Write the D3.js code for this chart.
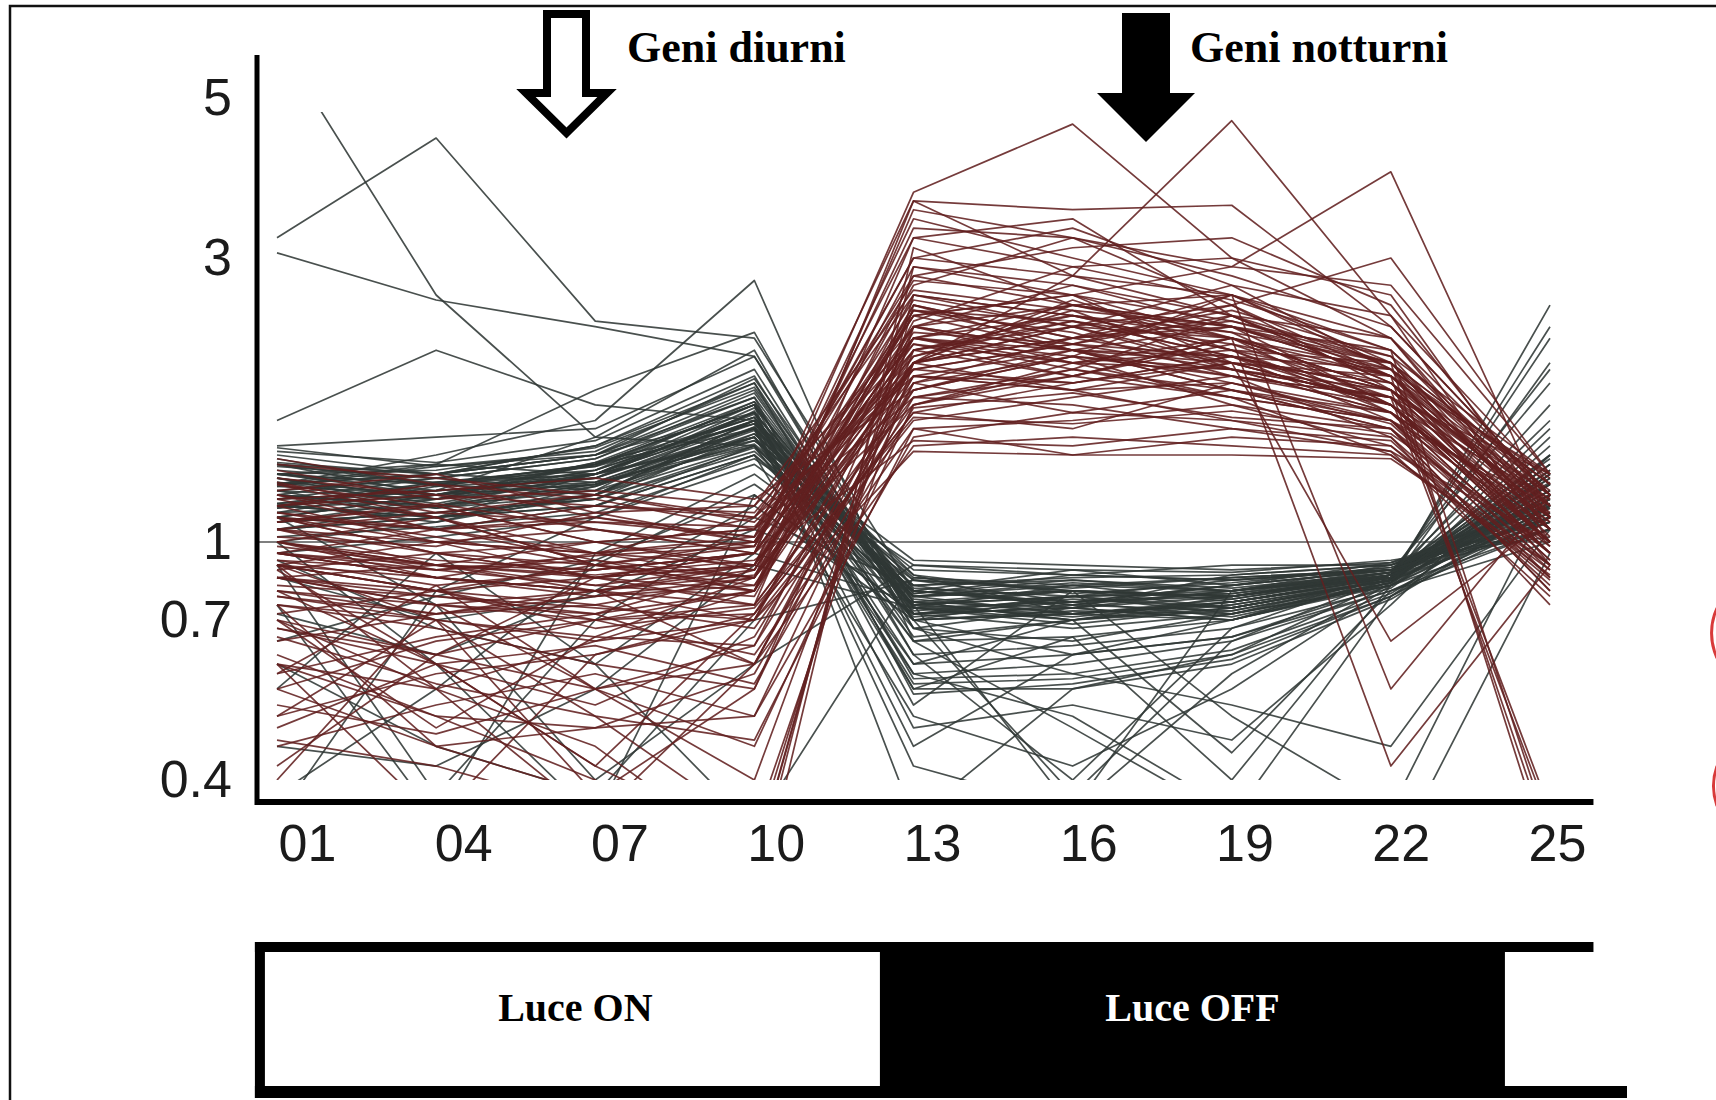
<!DOCTYPE html>
<html>
<head>
<meta charset="utf-8">
<script src="https://cdn.jsdelivr.net/npm/d3@7"></script>
<style>
  body { margin: 0; background: #fff; }
  svg { display: block; }
</style>
</head>
<body>
<svg id="chart" width="1716" height="1100"></svg>
<script>
// Sampling times (hours) and y tick values of the expression profile plot
const hours = ["01", "04", "07", "10", "13", "16", "19", "22", "25"];
const yTicks = [0.4, 0.7, 1, 3, 5];

// Relative expression of night-peaking genes (one row per gene, one value per sampling time)
const nightGenes = [
  [1.10, 0.95, 0.85, 0.90, 2.10, 2.30, 2.00, 1.70, 1.05],
  [1.20, 1.05, 0.95, 1.00, 2.40, 2.60, 2.20, 1.80, 1.10],
  [0.90, 0.80, 0.75, 0.85, 1.90, 2.10, 2.30, 1.90, 1.15],
  [1.00, 1.10, 0.90, 0.80, 2.60, 2.40, 2.10, 1.65, 1.00],
  [1.15, 1.00, 1.05, 0.95, 2.20, 1.95, 2.40, 1.85, 1.20],
  [0.85, 0.90, 0.80, 0.75, 1.80, 2.05, 1.90, 1.75, 0.95],
  [1.25, 1.15, 1.00, 1.05, 2.80, 2.50, 2.25, 2.00, 1.25],
  [0.95, 0.85, 0.95, 0.90, 2.00, 2.20, 2.60, 1.95, 1.10],
  [1.05, 0.95, 0.85, 0.95, 2.30, 2.70, 2.30, 1.70, 1.00],
  [1.10, 1.05, 1.10, 1.00, 1.95, 1.85, 2.05, 1.60, 1.15],
  [0.80, 0.75, 0.70, 0.80, 2.50, 2.20, 2.45, 2.05, 1.05],
  [1.20, 1.10, 0.90, 0.85, 2.05, 2.45, 1.95, 1.80, 1.20],
  [0.90, 1.00, 0.85, 0.90, 2.90, 2.60, 2.00, 1.90, 1.10],
  [1.00, 0.90, 1.00, 1.05, 1.75, 1.90, 2.15, 1.75, 1.30],
  [1.15, 1.20, 1.05, 0.95, 2.20, 2.10, 1.80, 1.55, 0.95],
  [0.95, 0.85, 0.80, 0.70, 2.35, 2.90, 2.55, 2.10, 1.20],
  [1.05, 1.00, 0.95, 0.85, 1.85, 2.20, 2.35, 2.00, 1.05],
  [0.88, 0.95, 1.00, 0.90, 2.15, 2.00, 2.20, 1.65, 1.10],
  [1.25, 1.10, 0.95, 1.10, 2.60, 2.30, 2.70, 1.95, 1.25],
  [1.00, 0.88, 0.92, 0.80, 2.00, 2.55, 2.10, 1.85, 1.00],
  [1.12, 1.02, 0.90, 0.98, 3.00, 2.80, 2.40, 2.00, 1.15],
  [0.92, 0.82, 0.88, 0.95, 1.70, 2.00, 1.75, 1.60, 1.05],
  [1.08, 1.15, 1.00, 0.88, 2.25, 2.15, 2.50, 1.90, 1.30],
  [0.98, 0.90, 0.82, 0.78, 2.45, 2.35, 2.05, 1.95, 0.90],
  [1.18, 1.05, 1.08, 1.02, 2.10, 2.40, 2.25, 1.70, 1.18],
  [1.28, 1.20, 1.15, 1.12, 2.30, 2.10, 2.05, 1.80, 1.15],
  [1.15, 1.25, 1.18, 1.05, 2.05, 2.35, 2.15, 1.90, 1.20],
  [1.32, 1.18, 1.22, 1.15, 2.65, 2.45, 2.30, 1.95, 1.28],
  [1.05, 1.12, 1.20, 1.08, 1.95, 2.15, 2.40, 1.85, 1.12],
  [1.22, 1.30, 1.12, 1.00, 2.45, 2.25, 1.90, 1.70, 1.05],
  [1.12, 1.05, 1.15, 1.10, 2.15, 1.90, 2.20, 1.95, 1.22],
  [1.38, 1.25, 1.10, 1.02, 2.75, 2.60, 2.35, 2.05, 1.30],
  [1.18, 1.22, 1.28, 1.18, 1.80, 2.05, 1.95, 1.75, 1.08],
  [1.08, 1.16, 1.05, 0.98, 2.55, 2.30, 2.50, 1.80, 1.18],
  [1.26, 1.12, 1.08, 1.06, 2.00, 2.50, 2.20, 1.90, 1.02],
  [1.02, 0.98, 1.12, 1.15, 2.20, 2.05, 2.60, 2.00, 1.25],
  [1.35, 1.28, 1.20, 1.10, 1.90, 1.80, 1.85, 1.65, 1.10],
  [0.60, 0.55, 0.65, 0.70, 1.60, 1.75, 1.90, 1.50, 0.85],
  [0.70, 0.62, 0.55, 0.60, 1.85, 1.65, 1.80, 1.55, 0.80],
  [0.55, 0.65, 0.70, 0.62, 1.55, 1.60, 1.70, 1.45, 0.90],
  [0.75, 0.68, 0.60, 0.55, 2.00, 1.80, 1.60, 1.50, 0.75],
  [0.65, 0.72, 0.75, 0.68, 1.70, 1.95, 1.75, 1.40, 0.88],
  [0.50, 0.58, 0.62, 0.72, 1.65, 1.55, 1.85, 1.60, 0.95],
  [0.62, 0.50, 0.48, 0.58, 1.75, 1.70, 1.55, 1.48, 0.82],
  [0.78, 0.70, 0.66, 0.64, 2.20, 2.00, 1.95, 1.65, 0.92],
  [0.45, 0.52, 0.58, 0.50, 1.50, 1.65, 1.60, 1.42, 0.78],
  [0.68, 0.60, 0.52, 0.66, 1.90, 1.85, 2.05, 1.70, 1.00],
  [0.58, 0.66, 0.72, 0.60, 1.45, 1.50, 1.45, 1.40, 0.86],
  [0.72, 0.80, 0.68, 0.74, 1.62, 1.58, 1.66, 1.52, 0.98],
  [0.52, 0.47, 0.55, 0.64, 1.80, 2.10, 1.85, 1.58, 0.90],
  [0.66, 0.56, 0.50, 0.46, 1.55, 1.40, 1.50, 1.45, 0.84],
  [0.48, 0.60, 0.64, 0.56, 1.68, 1.78, 1.62, 1.55, 0.80],
  [0.70, 0.55, 0.45, 0.30, 2.60, 2.40, 2.20, 1.80, 1.00],
  [0.60, 0.50, 0.40, 0.28, 2.90, 2.70, 2.40, 1.90, 1.10],
  [0.80, 0.60, 0.42, 0.32, 2.30, 2.00, 2.10, 1.70, 0.95],
  [0.55, 0.45, 0.38, 0.25, 3.10, 2.50, 2.30, 2.00, 1.05],
  [0.90, 0.70, 0.50, 0.34, 2.00, 2.30, 1.95, 1.75, 1.15],
  [0.46, 0.42, 0.36, 0.30, 2.50, 2.20, 2.00, 1.85, 0.98],
  [1.00, 0.85, 0.80, 0.90, 3.30, 3.20, 2.80, 2.30, 1.20],
  [0.90, 0.80, 0.70, 0.75, 3.20, 2.90, 3.00, 2.60, 1.10],
  [1.10, 0.95, 0.90, 1.00, 3.00, 3.30, 2.70, 2.40, 1.25],
  [0.85, 0.75, 0.72, 0.80, 2.80, 3.10, 3.20, 2.50, 1.15],
  [1.05, 0.90, 0.88, 0.95, 3.40, 3.00, 2.60, 2.20, 1.05],
  [0.95, 1.05, 0.92, 0.85, 2.70, 3.20, 2.90, 2.70, 1.30],
  [1.10, 1.00, 0.95, 1.02, 3.60, 2.80, 2.60, 2.10, 1.15],
  [0.92, 0.88, 0.94, 0.98, 3.20, 3.40, 2.40, 2.20, 1.20],
  [0.75, 0.70, 0.65, 0.80, 2.20, 2.40, 2.10, 2.00, 0.30],
  [0.68, 0.62, 0.70, 0.72, 2.00, 2.20, 2.30, 1.90, 0.32],
  [0.85, 0.78, 0.72, 0.88, 2.50, 2.10, 1.90, 1.75, 0.35],
  [0.90, 0.85, 0.78, 0.82, 2.30, 2.50, 2.30, 2.10, 0.33],
  [0.78, 0.72, 0.80, 0.86, 1.95, 2.15, 2.05, 1.80, 0.36],
  [1.00, 0.92, 0.88, 0.95, 2.20, 2.50, 2.60, 0.55, 1.20],
  [0.85, 0.80, 0.90, 0.82, 2.00, 2.30, 2.20, 0.42, 0.90],
  [0.95, 0.85, 0.80, 0.88, 2.40, 2.10, 2.00, 0.65, 1.10],
  [0.90, 0.55, 0.35, 0.60, 1.90, 1.80, 2.00, 1.70, 0.95],
  [0.40, 0.75, 0.55, 0.45, 1.70, 1.90, 1.75, 1.60, 0.85],
  [0.60, 0.35, 0.62, 0.70, 2.10, 1.90, 2.20, 1.80, 1.00],
  [0.75, 0.45, 0.48, 0.50, 1.85, 2.05, 1.70, 1.55, 0.88],
  [0.50, 0.70, 0.38, 0.55, 2.30, 2.10, 1.80, 1.65, 0.92],
  [0.42, 0.62, 0.85, 0.75, 1.75, 1.95, 1.80, 1.60, 0.90],
  [0.88, 0.60, 0.42, 0.72, 1.65, 1.85, 2.00, 1.70, 0.95],
  [0.58, 0.82, 0.55, 0.40, 2.10, 2.35, 2.05, 1.75, 1.00],
  [0.70, 0.48, 0.66, 0.85, 2.45, 2.15, 1.95, 1.65, 1.08],
  [0.82, 0.78, 0.74, 0.70, 1.42, 1.40, 1.40, 1.38, 0.90],
  [0.95, 0.90, 0.86, 0.92, 1.48, 1.45, 1.55, 1.42, 1.00],
  [0.90, 0.80, 0.85, 0.95, 3.70, 4.60, 3.00, 2.20, 1.10],
  [0.85, 0.75, 0.80, 0.60, 2.00, 2.80, 4.65, 2.40, 1.00],
  [1.00, 0.90, 0.85, 0.80, 3.60, 3.50, 3.55, 2.30, 1.20],
  [0.95, 0.88, 0.82, 0.90, 2.40, 2.60, 2.90, 3.95, 1.10],
  [0.80, 0.72, 0.78, 0.85, 3.50, 3.20, 2.50, 3.00, 1.30]
];

// Relative expression of day-peaking genes
const dayGenes = [
  [1.20, 1.15, 1.30, 1.60, 0.75, 0.80, 0.78, 0.85, 1.20],
  [1.10, 1.20, 1.25, 1.50, 0.80, 0.75, 0.82, 0.88, 1.15],
  [1.30, 1.25, 1.35, 1.70, 0.70, 0.72, 0.75, 0.84, 1.30],
  [1.15, 1.10, 1.20, 1.45, 0.85, 0.82, 0.80, 0.90, 1.10],
  [1.25, 1.30, 1.40, 1.80, 0.72, 0.78, 0.72, 0.82, 1.25],
  [1.05, 1.10, 1.15, 1.40, 0.82, 0.85, 0.86, 0.90, 1.05],
  [1.35, 1.20, 1.30, 1.65, 0.76, 0.70, 0.76, 0.86, 1.35],
  [1.18, 1.22, 1.28, 1.55, 0.78, 0.83, 0.80, 0.87, 1.18],
  [1.40, 1.30, 1.45, 1.90, 0.68, 0.74, 0.70, 0.83, 1.40],
  [1.12, 1.15, 1.22, 1.48, 0.88, 0.86, 0.84, 0.89, 1.12],
  [1.28, 1.18, 1.32, 1.62, 0.74, 0.76, 0.79, 0.85, 1.22],
  [1.08, 1.12, 1.18, 1.42, 0.80, 0.88, 0.82, 0.91, 1.08],
  [1.22, 1.28, 1.38, 1.75, 0.73, 0.77, 0.74, 0.84, 1.28],
  [1.32, 1.26, 1.34, 1.58, 0.77, 0.72, 0.77, 0.86, 1.32],
  [1.16, 1.08, 1.24, 1.52, 0.84, 0.81, 0.85, 0.88, 1.16],
  [1.24, 1.34, 1.42, 1.85, 0.71, 0.75, 0.73, 0.83, 1.45],
  [1.38, 1.24, 1.28, 1.68, 0.79, 0.84, 0.81, 0.87, 1.38],
  [1.14, 1.18, 1.26, 1.46, 0.86, 0.79, 0.83, 0.89, 1.10],
  [1.26, 1.20, 1.36, 1.72, 0.75, 0.71, 0.76, 0.85, 1.26],
  [1.42, 1.36, 1.48, 1.95, 0.70, 0.73, 0.72, 0.82, 1.50],
  [1.02, 1.06, 1.12, 1.38, 0.90, 0.88, 0.87, 0.92, 1.02],
  [1.20, 1.14, 1.20, 1.56, 0.78, 0.80, 0.78, 0.86, 1.60],
  [1.30, 1.32, 1.44, 1.82, 0.74, 0.69, 0.74, 0.84, 1.70],
  [1.16, 1.26, 1.30, 1.64, 0.81, 0.78, 0.79, 0.87, 1.85],
  [1.34, 1.28, 1.38, 1.78, 0.72, 0.76, 0.71, 0.83, 2.00],
  [1.22, 1.10, 1.18, 1.52, 0.82, 0.74, 0.86, 0.90, 1.18],
  [1.12, 1.24, 1.34, 1.70, 0.74, 0.82, 0.76, 0.85, 1.22],
  [1.36, 1.30, 1.26, 1.55, 0.70, 0.78, 0.84, 0.88, 1.28],
  [1.00, 1.08, 1.20, 1.60, 0.86, 0.72, 0.70, 0.84, 1.08],
  [1.26, 1.16, 1.30, 1.48, 0.92, 0.90, 0.88, 0.91, 1.16],
  [1.18, 1.28, 1.22, 1.66, 0.66, 0.70, 0.78, 0.86, 1.40],
  [1.44, 1.34, 1.40, 1.88, 0.76, 0.80, 0.74, 0.84, 1.55],
  [0.95, 1.02, 1.10, 1.35, 0.84, 0.76, 0.82, 0.88, 1.05],
  [1.30, 1.22, 1.50, 2.10, 0.68, 0.65, 0.72, 0.83, 1.32],
  [1.08, 1.18, 1.36, 1.58, 0.79, 0.86, 0.90, 0.90, 1.14],
  [1.24, 1.20, 1.32, 1.62, 0.74, 0.72, 0.76, 0.85, 2.30],
  [1.16, 1.22, 1.26, 1.56, 0.78, 0.80, 0.78, 0.87, 1.95],
  [1.20, 1.15, 1.25, 1.55, 0.56, 0.57, 0.62, 0.78, 1.10],
  [1.10, 1.20, 1.30, 1.65, 0.55, 0.55, 0.60, 0.77, 1.15],
  [1.30, 1.25, 1.35, 1.70, 0.57, 0.58, 0.63, 0.79, 1.20],
  [1.15, 1.10, 1.20, 1.50, 0.58, 0.60, 0.65, 0.80, 1.05],
  [1.25, 1.30, 1.40, 1.75, 0.54, 0.56, 0.61, 0.78, 1.25],
  [1.05, 1.10, 1.15, 1.45, 0.60, 0.62, 0.66, 0.80, 1.00],
  [1.35, 1.30, 1.45, 1.85, 0.62, 0.64, 0.68, 0.81, 1.30],
  [1.18, 1.22, 1.28, 1.60, 0.65, 0.66, 0.70, 0.82, 1.12],
  [3.20, 4.40, 2.35, 2.20, 0.80, 0.75, 0.80, 0.86, 1.20],
  [3.05, 2.55, 2.30, 2.05, 0.70, 0.72, 0.76, 0.85, 1.30],
  [6.00, 2.60, 1.50, 1.45, 0.75, 0.78, 0.74, 0.84, 1.15],
  [1.60, 2.10, 1.70, 1.60, 0.78, 0.82, 0.85, 0.88, 1.25],
  [1.25, 1.40, 1.60, 2.75, 0.65, 0.70, 0.75, 0.84, 1.35],
  [1.30, 1.35, 1.80, 2.25, 0.72, 0.68, 0.72, 0.85, 2.20],
  [1.45, 1.50, 1.55, 2.05, 0.76, 0.74, 0.70, 0.83, 2.50],
  [1.20, 1.10, 1.30, 1.50, 0.70, 0.38, 0.65, 0.85, 1.20],
  [1.15, 1.25, 1.20, 1.60, 0.60, 0.70, 0.44, 0.80, 1.10],
  [1.30, 1.20, 1.35, 1.55, 0.45, 0.62, 0.70, 0.86, 1.25],
  [1.10, 1.05, 1.15, 1.40, 0.50, 0.42, 0.55, 0.82, 1.05],
  [1.25, 1.35, 1.30, 1.70, 0.35, 0.55, 0.62, 0.84, 1.30],
  [1.05, 1.15, 1.25, 1.50, 0.65, 0.48, 0.35, 0.78, 1.15],
  [1.20, 1.30, 1.40, 1.65, 0.52, 0.80, 0.50, 0.36, 1.20],
  [1.35, 1.25, 1.30, 1.60, 0.48, 0.52, 0.46, 0.75, 1.40],
  [1.15, 1.20, 1.25, 1.45, 0.75, 0.36, 0.80, 0.88, 1.10],
  [1.28, 1.18, 1.35, 1.62, 0.58, 0.50, 0.36, 0.30, 0.95],
  [1.22, 1.18, 1.28, 1.58, 0.42, 0.36, 0.58, 0.83, 1.18],
  [1.14, 1.26, 1.32, 1.72, 0.62, 0.40, 0.68, 0.86, 1.22],
  [1.28, 1.14, 1.24, 1.54, 0.55, 0.66, 0.40, 0.82, 1.14],
  [1.08, 1.12, 1.18, 1.44, 0.68, 0.58, 0.52, 0.45, 1.05],
  [0.85, 0.70, 0.78, 1.05, 0.80, 0.76, 0.78, 0.86, 1.10],
  [0.65, 0.78, 0.92, 1.20, 0.72, 0.74, 0.80, 0.85, 1.18],
  [0.92, 0.68, 0.60, 0.95, 0.76, 0.70, 0.74, 0.84, 1.12],
  [0.72, 0.62, 0.80, 1.15, 0.70, 0.62, 0.66, 0.82, 1.20],
  [0.60, 0.45, 0.38, 0.70, 0.84, 0.80, 0.78, 0.87, 1.08],
  [0.35, 0.80, 1.10, 1.40, 0.75, 0.78, 0.80, 0.86, 1.15],
  [0.75, 0.35, 0.95, 1.30, 0.80, 0.76, 0.82, 0.88, 1.10],
  [1.00, 0.60, 0.35, 1.20, 0.72, 0.74, 0.78, 0.85, 1.20],
  [0.55, 0.95, 0.60, 0.34, 0.85, 0.80, 0.77, 0.86, 1.05],
  [0.38, 0.55, 0.90, 1.25, 0.78, 0.72, 0.76, 0.84, 1.25],
  [0.90, 0.38, 0.70, 1.10, 0.82, 0.84, 0.80, 0.87, 1.15],
  [1.10, 0.75, 0.40, 0.60, 0.90, 0.86, 0.84, 0.88, 1.10],
  [0.45, 0.42, 0.55, 0.90, 0.74, 0.70, 0.73, 0.84, 1.35]
];

// Light schedule (hours) shown in the bar under the plot
const lightPhases = [
  { label: "Luce ON",  from: 0,  to: 12,   dark: false },
  { label: "Luce OFF", from: 12, to: 24,   dark: true  },
  { label: "",         from: 24, to: 25.7, dark: false }
];

const geneGroups = [
  { label: "Geni diurni",   filled: false },
  { label: "Geni notturni", filled: true  }
];

const svg = d3.select("#chart");

// Scales: sampling points, hour positions of axis labels / light bar, piecewise-log expression
const x = d3.scalePoint().domain(hours).range([277, 1550]);
const hourLabelX = d3.scalePoint().domain(hours).range([307, 1557]);
const clock = d3.scaleLinear().domain([1, 25]).range([307, 1557]);
const y = d3.scaleLog().domain(yTicks).range([780, 620, 542, 258, 98]);

const sans = "'Liberation Sans', Arial, Helvetica, sans-serif";
const serif = "'Liberation Serif', 'Times New Roman', serif";

// Outer frame
svg.append("rect")
  .attr("x", 10).attr("y", 6).attr("width", 1740).attr("height", 1140)
  .attr("fill", "none").attr("stroke", "#111").attr("stroke-width", 2.5);

// Plot clipping region
svg.append("defs").append("clipPath").attr("id", "plot-clip")
  .append("rect").attr("x", 259).attr("y", 112).attr("width", 1340).attr("height", 668);

const plot = svg.append("g").attr("clip-path", "url(#plot-clip)");

// Reference level at relative expression 1
plot.append("line")
  .attr("x1", 259).attr("x2", x("25"))
  .attr("y1", y(1)).attr("y2", y(1))
  .attr("stroke", "#555").attr("stroke-width", 1.6);

const line = d3.line()
  .x((d, i) => x(hours[i]))
  .y(d => y(d));

plot.selectAll("path.day")
  .data(dayGenes)
  .join("path")
  .attr("class", "day")
  .attr("d", line)
  .attr("fill", "none")
  .attr("stroke", "#303836")
  .attr("stroke-width", 1.7)
  .attr("stroke-opacity", 0.88)
  .attr("stroke-linejoin", "round");

plot.selectAll("path.night")
  .data(nightGenes)
  .join("path")
  .attr("class", "night")
  .attr("d", line)
  .attr("fill", "none")
  .attr("stroke", "#622020")
  .attr("stroke-width", 1.7)
  .attr("stroke-opacity", 0.88)
  .attr("stroke-linejoin", "round");

// Axes
const xAxis = svg.append("g")
  .attr("transform", "translate(0,802)")
  .call(d3.axisBottom(hourLabelX).tickSize(0).tickPadding(22))
  .attr("font-size", 52).attr("font-family", sans);
xAxis.select(".domain").remove();
xAxis.selectAll("text").attr("fill", "#1b1b1b");

const yAxis = svg.append("g")
  .attr("transform", "translate(257,0)")
  .call(d3.axisLeft(y).tickValues(yTicks).tickFormat(d => String(d)).tickSize(0).tickPadding(25))
  .attr("font-size", 52).attr("font-family", sans);
yAxis.select(".domain").remove();
yAxis.selectAll("text").attr("fill", "#1b1b1b");

svg.append("line")
  .attr("x1", 257).attr("x2", 257).attr("y1", 55).attr("y2", 805)
  .attr("stroke", "#000").attr("stroke-width", 5);
svg.append("line")
  .attr("x1", 255).attr("x2", clock(25.7)).attr("y1", 802).attr("y2", 802)
  .attr("stroke", "#000").attr("stroke-width", 6);

// Light / dark bar
const bar = svg.append("g");
bar.selectAll("rect.phase")
  .data(lightPhases.filter(p => p.dark))
  .join("rect")
  .attr("class", "phase")
  .attr("x", d => clock(d.from)).attr("width", d => clock(d.to) - clock(d.from))
  .attr("y", 942).attr("height", 156)
  .attr("fill", "#000");
bar.append("line")
  .attr("x1", clock(0)).attr("x2", clock(25.7)).attr("y1", 947).attr("y2", 947)
  .attr("stroke", "#000").attr("stroke-width", 10);
bar.append("line")
  .attr("x1", clock(0)).attr("x2", 1627).attr("y1", 1092).attr("y2", 1092)
  .attr("stroke", "#000").attr("stroke-width", 12);
bar.append("line")
  .attr("x1", clock(0) + 5).attr("x2", clock(0) + 5).attr("y1", 942).attr("y2", 1098)
  .attr("stroke", "#000").attr("stroke-width", 10);
bar.selectAll("text")
  .data(lightPhases.filter(p => p.label))
  .join("text")
  .attr("x", d => (clock(d.from) + clock(d.to)) / 2 + (d.dark ? 0 : 8))
  .attr("y", 1021)
  .attr("text-anchor", "middle")
  .attr("font-family", serif).attr("font-weight", "bold").attr("font-size", 40)
  .attr("fill", d => d.dark ? "#fff" : "#000")
  .text(d => d.label);

// Arrows marking the two gene groups
const arrowShapes = [
  "M547,14 L586,14 L586,93 L607,93 L566.5,133 L526,93 L547,93 Z",
  "M1122,13 L1170,13 L1170,93 L1195,93 L1146,142 L1097,93 L1122,93 Z"
];
const labelPos = [[627, 62], [1190, 62]];
geneGroups.forEach((g, i) => {
  svg.append("path")
    .attr("d", arrowShapes[i])
    .attr("fill", g.filled ? "#000" : "#fff")
    .attr("stroke", "#000")
    .attr("stroke-width", g.filled ? 0 : 8)
    .attr("stroke-linejoin", "miter");
  svg.append("text")
    .attr("x", labelPos[i][0]).attr("y", labelPos[i][1])
    .attr("font-family", serif).attr("font-weight", "bold").attr("font-size", 44)
    .attr("fill", "#000")
    .text(g.label);
});

// Small red marks on the right edge
svg.append("path")
  .attr("d", "M1717,608 A60,60 0 0,0 1717,658 M1717,766 A60,60 0 0,0 1717,806")
  .attr("fill", "none").attr("stroke", "#d83a3a").attr("stroke-width", 3);
</script>
</body>
</html>
